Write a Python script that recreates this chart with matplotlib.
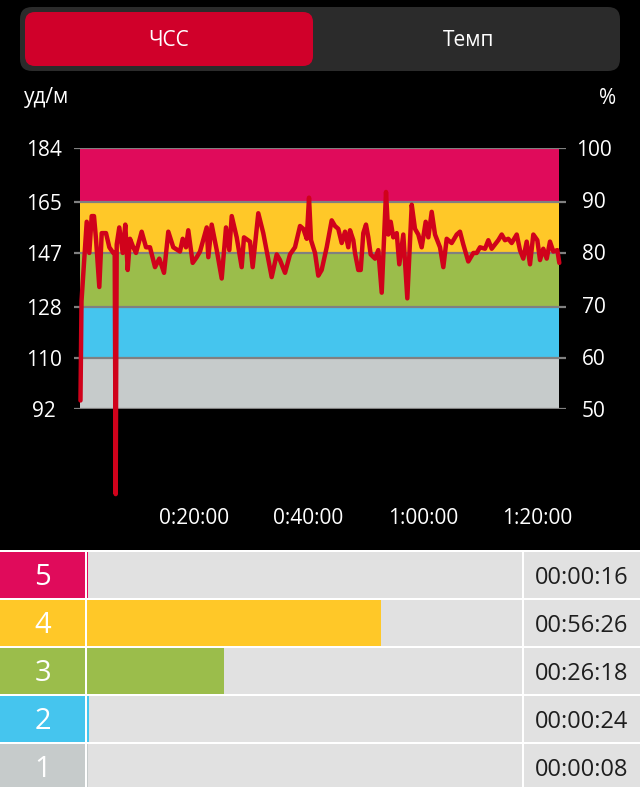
import numpy as np
import matplotlib
matplotlib.use('Agg')
import matplotlib.pyplot as plt
from matplotlib.patches import FancyBboxPatch, Rectangle

plt.rcParams['font.family'] = ['Open Sans', 'DejaVu Sans']

# heart rate trace: time in minutes and beats per minute
minutes = [0.17, 0.35, 1.26, 1.71, 2.13, 2.53, 2.88, 3.46, 3.88, 4.63,
           5.21, 5.9, 6.15, 6.32, 6.5, 6.95, 7.55, 8.0, 8.42, 8.82,
           9.4, 9.87, 10.86, 11.62, 12.31, 13.19, 13.94, 14.76, 15.51, 16.38,
           17.55, 18.03, 18.6, 19.0, 19.77, 20.47, 21.05, 22.22, 22.5, 23.09,
           23.97, 24.84, 25.59, 26.17, 26.59, 27.46, 28.33, 28.73, 29.78, 30.25,
           31.23, 32.1, 33.57, 34.45, 35.02, 35.9, 36.77, 37.64, 38.52, 39.09,
           39.69, 40.09, 40.44, 41.14, 41.71, 42.3, 43.18, 44.05, 44.63, 45.2,
           45.8, 46.38, 46.95, 47.25, 47.83, 48.12, 48.7, 49.12, 49.57, 50.04,
           50.45, 50.86, 51.62, 52.19, 52.79, 53.54, 53.94, 54.36, 54.81, 55.41,
           55.86, 56.56, 57.26, 58.03, 58.6, 59.18, 59.77, 60.47, 60.93, 61.52,
           62.1, 62.97, 63.55, 64.14, 65.01, 65.89, 66.46, 67.04, 67.91, 68.79,
           69.38, 69.96, 70.83, 71.41, 72.0, 72.58, 73.15, 73.75, 74.32, 74.9,
           75.49, 76.37, 76.94, 77.52, 78.11, 78.69, 79.27, 79.97, 80.44, 81.01,
           81.61, 82.18, 82.76, 83.46, 83.81]
bpm = [95, 130, 158, 147, 160, 160, 152, 135, 154, 154,
       149, 147, 147, 62, 150, 156, 147, 157, 141, 152,
       149, 147, 154.5, 149, 149, 142, 145, 140, 154.5, 149,
       147.5, 152, 149, 155, 143.5, 145.5, 147.5, 156, 145.5, 157,
       148, 138, 156, 148, 160, 152.5, 142, 152.5, 151, 142,
       161, 154, 138.5, 146.5, 144.5, 140, 146.5, 149, 156.5, 155.5,
       152, 166.5, 151.5, 147, 139, 141, 149, 158.5, 156.5, 155.5,
       150.5, 154.5, 149, 155, 151.5, 147, 141, 141, 154, 157,
       152.5, 146.5, 145, 148, 133, 168.5, 153.5, 158, 152.5, 154,
       143, 153.5, 131, 164, 155.5, 153.5, 149, 158, 152.5, 161.5,
       153.5, 149, 142, 152, 150.5, 153.5, 154.5, 150, 144, 147,
       147, 149, 148.5, 151.5, 148.5, 150, 151.5, 153.5, 151.5, 152,
       150.5, 153.5, 148, 145, 151, 143, 153.5, 151.5, 144.5, 148.5,
       145, 151, 147.5, 148, 143.5]

zone_bounds = [92, 110, 128, 147, 165, 184]
zone_labels = ['1', '2', '3', '4', '5']
zone_colors = ['#c6cbcb', '#45c5ee', '#9bbd4b', '#ffc828', '#e00b5b']
zone_secs = [8, 24, 1578, 3386, 16]
zone_times = ['00:00:08', '00:00:24', '00:26:18', '00:56:26', '00:00:16']
pct_ticks = [50, 60, 70, 80, 90, 100]
time_ticks = [20, 40, 60, 80]
time_labels = ['0:20:00', '0:40:00', '1:00:00', '1:20:00']
tabs = ['ЧСС', 'Темп']

W, H = 640, 787
fig = plt.figure(figsize=(W / 100, H / 100), dpi=100, facecolor='black')


def box(left, top, right, bottom):
    # pixel rectangle (from top left) -> figure fraction
    return [left / W, 1 - bottom / H, (right - left) / W, (bottom - top) / H]


# background layer in pixel units
bg = fig.add_axes([0, 0, 1, 1])
bg.set_xlim(0, W)
bg.set_ylim(H, 0)
bg.axis('off')
bg.add_patch(FancyBboxPatch((20, 7), 600, 64, boxstyle='round,pad=0,rounding_size=12',
                            fc='#2b2b2b', ec='none'))
bg.add_patch(FancyBboxPatch((25, 12), 288, 54, boxstyle='round,pad=0,rounding_size=10',
                            fc='#d0002a', ec='none'))
bg.text(169, 41, tabs[0], color='white', fontsize=15, ha='center', va='center')
bg.text(469, 41, tabs[1], color='white', fontsize=15, ha='center', va='center')
bg.text(24, 98, 'уд/м', color='white', fontsize=15, ha='left', va='center')
bg.text(616, 98, '%', color='white', fontsize=15, ha='right', va='center')
bg.add_patch(Rectangle((0, 550), W, 240, fc='white', ec='none'))

# main heart rate chart
px_per_min = 5.725
ax = fig.add_axes(box(74, 148, 566, 409))
ax.set_facecolor('none')
ax.set_xlim(-5.5 / px_per_min, 486.5 / px_per_min)
ax.set_ylim(92, 184)
for lo, hi, c in zip(zone_bounds[:-1], zone_bounds[1:], zone_colors):
    ax.fill_between([0, minutes[-1]], lo, hi, color=c, lw=0, zorder=1)
for v in zone_bounds:
    ax.axhline(v, color='#808080', lw=1.6, zorder=2)
ax.plot(minutes, bpm, color='#d0021b', lw=3.2, zorder=3, clip_on=False,
        solid_joinstyle='round', solid_capstyle='round')

ax.set_yticks(zone_bounds)
ax.set_yticklabels([str(v) for v in zone_bounds])
ax.tick_params(axis='y', length=0, pad=21.6, labelcolor='white', labelsize=15)
for lab in ax.get_yticklabels():
    lab.set_ha('center')
ax.set_xticks(time_ticks)
ax.set_xticklabels(time_labels)
ax.tick_params(axis='x', length=0, pad=71, labelcolor='white', labelsize=15)
for s in ax.spines.values():
    s.set_visible(False)

ax2 = ax.twinx()
ax2.set_ylim(50, 100)
ax2.set_yticks(pct_ticks)
ax2.set_yticklabels([str(v) for v in pct_ticks])
ax2.tick_params(axis='y', length=0, pad=20.2, labelcolor='white', labelsize=15)
for lab in ax2.get_yticklabels():
    lab.set_ha('center')
for s in ax2.spines.values():
    s.set_visible(False)

# zone summary table
rows = np.arange(len(zone_labels))
bar_h = 46 / 48
text_y = bar_h / 2 - 0.06
total = sum(zone_secs)

num_ax = fig.add_axes(box(0, 550, 85, 790))
num_ax.barh(rows, 1, height=bar_h, align='edge', color=zone_colors)
for r, lab in zip(rows, zone_labels):
    num_ax.text(0.5, r + text_y, lab, color='white', fontsize=21, ha='center', va='center')
num_ax.set_xlim(0, 1)
num_ax.set_ylim(0, 5)
num_ax.axis('off')

bar_ax = fig.add_axes(box(87, 550, 522, 790))
bar_ax.barh(rows, total, height=bar_h, align='edge', color='#e1e1e1')
bar_ax.barh(rows, zone_secs, height=bar_h, align='edge', color=zone_colors)
bar_ax.set_xlim(0, total)
bar_ax.set_ylim(0, 5)
bar_ax.axis('off')

time_ax = fig.add_axes(box(524, 550, 640, 790))
time_ax.barh(rows, 1, height=bar_h, align='edge', color='#e1e1e1')
for r, lab in zip(rows, zone_times):
    time_ax.text(0.095, r + text_y, lab, color='#1e1e1e', fontsize=17, ha='left', va='center')
time_ax.set_xlim(0, 1)
time_ax.set_ylim(0, 5)
time_ax.axis('off')

fig.savefig('out.png', dpi=100, facecolor='black')
